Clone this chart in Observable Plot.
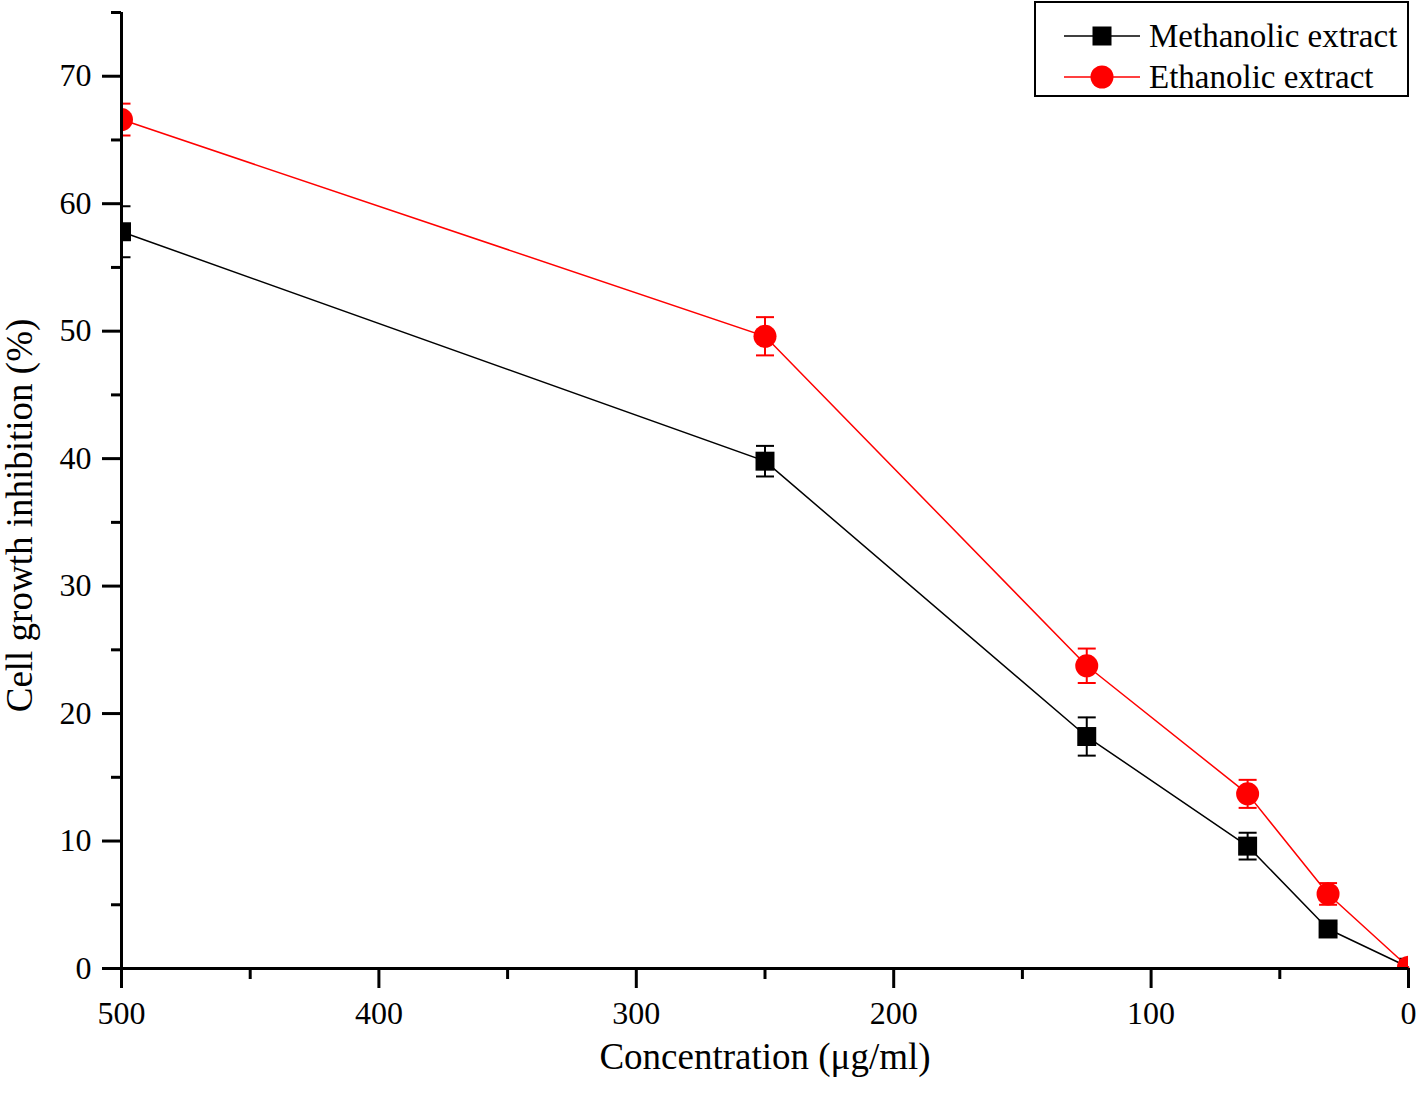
<!DOCTYPE html>
<html>
<head>
<meta charset="utf-8">
<script src="https://cdn.jsdelivr.net/npm/d3@7"></script>
<script src="https://cdn.jsdelivr.net/npm/@observablehq/plot@0.6"></script>
<style>
  html, body { margin: 0; padding: 0; background: #fff; }
  #wrap { position: relative; width: 1418px; height: 1098px; font-family: "Liberation Serif", "Times New Roman", serif; }
  #legend { position: absolute; left: 1034px; top: 1px; width: 371px; height: 92px; border: 2px solid #000; background: #fff; }
  .item { position: absolute; left: 0; height: 40px; display: flex; align-items: center; }
  .item span { font-size: 33px; color: #000; margin-left: 9px; white-space: nowrap; }
</style>
</head>
<body>
<div id="wrap">
  <div id="chart"></div>
  <div id="legend">
    <div class="item" style="top:13px; left:28px;">
      <svg width="76" height="30"><line x1="0" x2="76" y1="15" y2="15" stroke="#000" stroke-width="1.5"/><rect x="28.5" y="5.5" width="19" height="19" fill="#000"/></svg>
      <span>Methanolic extract</span>
    </div>
    <div class="item" style="top:54px; left:28px;">
      <svg width="76" height="30"><line x1="0" x2="76" y1="15" y2="15" stroke="#ff0000" stroke-width="1.5"/><circle cx="38" cy="15" r="11.5" fill="#ff0000"/></svg>
      <span>Ethanolic extract</span>
    </div>
  </div>
</div>
<script>
const concentrations = [500, 250, 125, 62.5, 31.25, 0];
const methanolic = [57.8, 39.8, 18.2, 9.6, 3.1, 0.1];
const methanolicErr = [2.0, 1.2, 1.5, 1.05, 0.4, 0];
const ethanolic = [66.6, 49.6, 23.75, 13.7, 5.85, 0.1];
const ethanolicErr = [1.25, 1.5, 1.35, 1.1, 0.85, 0];
const xMajorTicks = [500, 400, 300, 200, 100, 0];
const xMinorTicks = [450, 350, 250, 150, 50];
const yMajorTicks = [0, 10, 20, 30, 40, 50, 60, 70];
const yMinorTicks = [5, 15, 25, 35, 45, 55, 65, 75];
const xTitle = "Concentration (μg/ml)";
const yTitle = "Cell growth inhibition (%)";

const series = [
  {name: "Methanolic extract", values: methanolic, errs: methanolicErr, color: "#000000", symbol: "square", r: 10.7},
  {name: "Ethanolic extract", values: ethanolic, errs: ethanolicErr, color: "#ff0000", symbol: "circle", r: 11.5}
];

const capSymbol = {
  draw(context) { context.moveTo(-9, 0); context.lineTo(9, 0); }
};

const marks = [];
for (const s of series) {
  const rows = concentrations.map((c, i) => ({c, v: s.values[i], e: s.errs[i]}));
  const errRows = rows.filter(d => d.e > 0);
  marks.push(
    Plot.ruleX(errRows, {x: "c", y1: d => d.v - d.e, y2: d => d.v + d.e, stroke: s.color, strokeWidth: 2, clip: "frame"}),
    Plot.dot(errRows, {x: "c", y: d => d.v + d.e, symbol: capSymbol, stroke: s.color, strokeWidth: 2, fill: "none", clip: "frame"}),
    Plot.dot(errRows, {x: "c", y: d => d.v - d.e, symbol: capSymbol, stroke: s.color, strokeWidth: 2, fill: "none", clip: "frame"}),
    Plot.line(rows, {x: "c", y: "v", stroke: s.color, strokeWidth: 1.5}),
    Plot.dot(rows, {x: "c", y: "v", symbol: s.symbol, r: s.r, fill: s.color, stroke: "none", clip: "frame"})
  );
}

const chart = Plot.plot({
  width: 1418,
  height: 1098,
  marginLeft: 121,
  marginRight: 10,
  marginTop: 12,
  marginBottom: 130,
  style: {fontFamily: "'Liberation Serif', 'Times New Roman', serif", fontSize: "32px", color: "#000", background: "#fff", overflow: "visible"},
  x: {domain: [500, 0]},
  y: {domain: [0, 75]},
  marks: [
    ...marks,
    Plot.axisY({ticks: yMajorTicks, tickSize: 19, tickPadding: 11, strokeWidth: 3, fontSize: 32, label: null}),
    Plot.axisY({ticks: yMinorTicks, tickSize: 10, strokeWidth: 3, tickFormat: () => "", label: null}),
    Plot.axisX({ticks: xMajorTicks, tickSize: 20, tickPadding: 13, strokeWidth: 3, fontSize: 32, label: null}),
    Plot.axisX({ticks: xMinorTicks, tickSize: 11, strokeWidth: 3, tickFormat: () => "", label: null}),
    Plot.text([yTitle], {frameAnchor: "left", rotate: -90, dx: -101, dy: 25, fontSize: 37, lineAnchor: "middle", textAnchor: "middle", fill: "#000"}),
    Plot.text([xTitle], {frameAnchor: "bottom", dy: 89, fontSize: 37, lineAnchor: "middle", textAnchor: "middle", fill: "#000"}),
    Plot.ruleX([500], {y1: 0, y2: 75, strokeWidth: 3, stroke: "#000"}),
    Plot.ruleY([0], {x1: 500, x2: 0, strokeWidth: 3, stroke: "#000"})
  ]
});
document.getElementById("chart").appendChild(chart);
</script>
</body>
</html>
